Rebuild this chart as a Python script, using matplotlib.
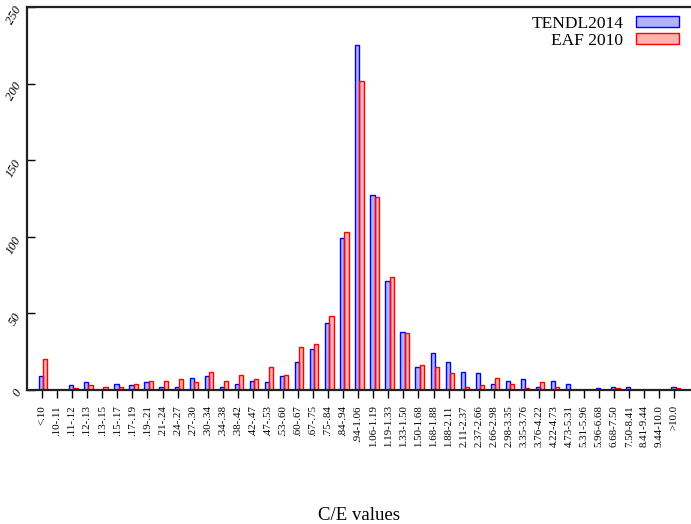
import numpy as np
import matplotlib
matplotlib.use('Agg')
from matplotlib import pyplot as plt

# C/E bins
categories = ['<.10', '.10-.11', '.11-.12', '.12-.13', '.13-.15', '.15-.17', '.17-.19',
              '.19-.21', '.21-.24', '.24-.27', '.27-.30', '.30-.34', '.34-.38', '.38-.42',
              '.42-.47', '.47-.53', '.53-.60', '.60-.67', '.67-.75', '.75-.84', '.84-.94',
              '.94-1.06', '1.06-1.19', '1.19-1.33', '1.33-1.50', '1.50-1.68', '1.68-1.88',
              '1.88-2.11', '2.11-2.37', '2.37-2.66', '2.66-2.98', '2.98-3.35', '3.35-3.76',
              '3.76-4.22', '4.22-4.73', '4.73-5.31', '5.31-5.96', '5.96-6.68', '6.68-7.50',
              '7.50-8.41', '8.41-9.44', '9.44-10.0', '>10.0']

tendl2014 = [9, 0, 3, 5, 0, 4, 3, 5, 2, 2, 8, 9, 2, 4, 6, 5, 9, 18, 27, 44, 99,
             225, 127, 71, 38, 15, 24, 18, 12, 11, 4, 6, 7, 2, 6, 4, 0, 1, 2, 2, 0, 0, 2]
eaf2010 = [20, 0, 1, 3, 2, 2, 4, 6, 6, 7, 5, 12, 6, 10, 7, 15, 10, 28, 30, 48, 103,
           202, 126, 74, 37, 16, 15, 11, 2, 3, 8, 4, 1, 5, 2, 0, 0, 0, 1, 0, 0, 0, 1]

yticks = [0, 50, 100, 150, 200, 250]

serif = ['Liberation Serif', 'DejaVu Serif']
plt.rcParams['font.family'] = serif

fig = plt.figure(figsize=(6.91, 5.24), dpi=100)
ax = fig.add_axes([27 / 691, 1 - 390 / 524, 664 / 691, 383 / 524])

x = np.arange(len(categories))
w = 0.28
ax.bar(x - 0.06, tendl2014, w, facecolor=(0, 0, 1, 0.3), edgecolor='blue',
       linewidth=1.0, label='TENDL2014')
ax.bar(x + 0.22, eaf2010, w, facecolor=(1, 0, 0, 0.3), edgecolor='red',
       linewidth=1.0, label='EAF 2010')

ax.set_xlim(-1, 43.1)
ax.set_ylim(0, 250)

ax.set_xticks(x)
ax.set_xticklabels(categories, rotation=90, fontsize=7.8)
ax.tick_params(axis='x', direction='out', length=6, width=1, pad=5)

ax.set_yticks(yticks)
ax.set_yticklabels([str(v) for v in yticks], rotation=60, fontsize=9,
                   style='italic', rotation_mode='anchor', ha='right', va='center')
ax.tick_params(axis='y', direction='in', length=6, width=1, pad=6)

for side in ['left', 'bottom', 'top']:
    ax.spines[side].set_linewidth(1.6)
    ax.spines[side].set_color('#222222')
ax.spines['right'].set_visible(False)

ax.set_xlabel('C/E values', fontsize=13.5)
ax.xaxis.set_label_coords(0.5, -0.328)
ax.xaxis.label.set_va('center')

leg = ax.legend(loc='upper right', markerfirst=False, frameon=False, fontsize=12.5,
                handlelength=2.5, handleheight=0.55, labelspacing=0.05,
                handletextpad=0.7, borderaxespad=0.1, bbox_to_anchor=(0.995, 1.0))

plt.savefig('out.png', dpi=100)
